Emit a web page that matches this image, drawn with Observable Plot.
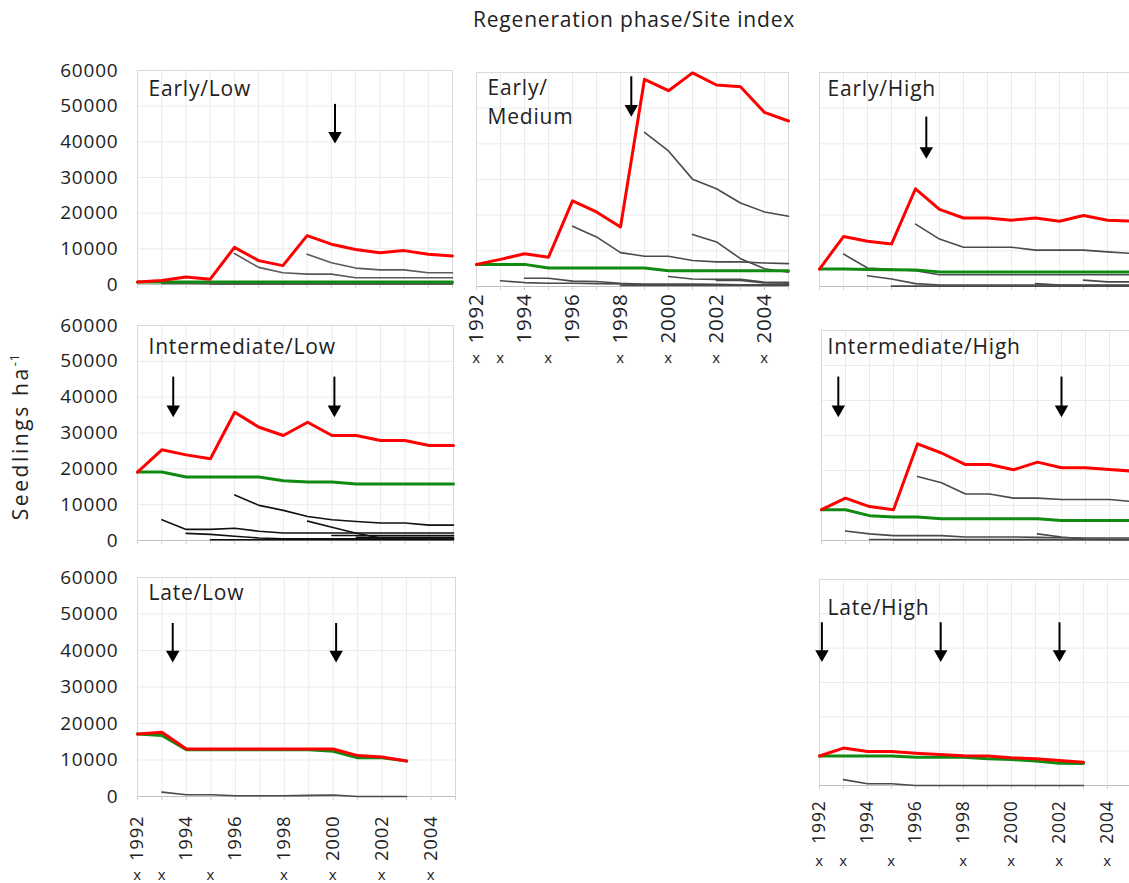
<!DOCTYPE html>
<html>
<head>
<meta charset="utf-8">
<script src="https://cdn.jsdelivr.net/npm/d3@7"></script>
<script src="https://cdn.jsdelivr.net/npm/@observablehq/plot@0.6"></script>
<style>
  html, body { margin: 0; padding: 0; background: #fff; overflow: hidden; }
  #root { position: relative; width: 1129px; height: 883px; overflow: hidden; font-family: "Open Sans", sans-serif; color: #222; }
  .panel { position: absolute; }
  #title { position: absolute; left: 473px; top: 9px; font-size: 21px; line-height: 21px; white-space: nowrap; letter-spacing: 0.8px; }
  #ylabel { position: absolute; left: 20px; top: 437px; transform: translate(-50%, -50%) rotate(-90deg); font-size: 21px; line-height: 21px; white-space: nowrap; letter-spacing: 2.6px; }
  #ylabel sup { font-size: 13px; vertical-align: 9px; line-height: 0; letter-spacing: 0.5px; }
</style>
</head>
<body>
<div id="root">
  <div id="title">Regeneration phase/Site index</div>
  <div id="ylabel">Seedlings ha<sup>-1</sup></div>
</div>
<script>
// ---------- shared axes ----------
const years = [1992, 1993, 1994, 1995, 1996, 1997, 1998, 1999, 2000, 2001, 2002, 2003, 2004, 2005];
const yTicks = [0, 10000, 20000, 30000, 40000, 50000, 60000];
const xLabelYears = [1992, 1994, 1996, 1998, 2000, 2002, 2004];
const markedYears = [1992, 1993, 1995, 1998, 2000, 2002, 2004];
const panelLabels = ["Early/Low", "Early/\nMedium", "Early/High", "Intermediate/Low", "Intermediate/High", "Late/Low", "Late/High"];

// ---------- Early/Low ----------
const earlyLowTotal = [700, 1100, 2100, 1500, 10400, 6700, 5300, 13700, 11300, 9800, 8900, 9500, 8500, 8000];
const earlyLowGreen = [700, 700, 700, 700, 700, 700, 700, 700, 700, 700, 700, 700, 700, 700];
const earlyLowCohorts = [
  {start: 1993, values: [300, 300, 200, 200, 200, 200, 200, 200, 200, 200, 200, 200, 200]},
  {start: 1995, values: [100, 100, 100, 100, 100, 100, 100, 100, 100, 100, 100]},
  {start: 1996, values: [8700, 4800, 3300, 2900, 2900, 1900, 1900, 1900, 1900, 1900]},
  {start: 1999, values: [8500, 6100, 4600, 4100, 4100, 3300, 3300]}
];
const earlyLowArrows = [{x: 2000.15, top: 50500, tip: 39500}];

// ---------- Early/Medium ----------
const earlyMedTotal = [6200, 7600, 9200, 8200, 24000, 20900, 16700, 58100, 54900, 59900, 56500, 56000, 48800, 46400];
const earlyMedGreen = [6200, 6200, 6200, 5200, 5200, 5200, 5200, 5200, 4400, 4400, 4400, 4400, 4400, 4400];
const earlyMedCohorts = [
  {start: 1993, values: [1600, 1100, 900, 900, 800, 700, 600, 600, 600, 600, 500, 500, 500]},
  {start: 1994, values: [2300, 2300, 1500, 1400, 900, 600, 600, 600, 500, 500, 500, 500]},
  {start: 1998, values: [300, 300, 300, 300, 300, 300, 300, 300]},
  {start: 2000, values: [2800, 2100, 2000, 2000, 1200, 1200]},
  {start: 2002, values: [1700, 1700, 1000, 900]},
  {start: 1996, values: [16900, 13900, 9500, 8500, 8500, 7300, 6900, 6900, 6600, 6400]},
  {start: 1999, values: [43200, 38000, 30100, 27400, 23400, 20900, 19700]},
  {start: 2001, values: [14600, 12500, 7800, 5000, 4000]}
];
const earlyMedArrows = [{x: 1998.45, top: 58800, tip: 47600}];

// ---------- Early/High ----------
const earlyHighTotal = [4900, 14000, 12700, 11900, 27400, 21600, 19200, 19200, 18600, 19200, 18300, 19900, 18600, 18300];
const earlyHighGreen = [4900, 4900, 4800, 4700, 4600, 4100, 4100, 4100, 4100, 4100, 4100, 4100, 4100, 4100];
const earlyHighCohorts = [
  {start: 1995, values: [100, 100, 100, 100, 100, 100, 100, 100, 100, 100, 100]},
  {start: 1994, values: [3000, 2100, 800, 400, 400, 400, 400, 400, 400, 400, 400, 400]},
  {start: 2001, values: [800, 400, 300, 300, 300]},
  {start: 2003, values: [1800, 1300, 1300]},
  {start: 1993, values: [9100, 5200, 4800, 4400, 3300, 3300, 3300, 3300, 3300, 3300, 3300, 3300, 3300]},
  {start: 1996, values: [17500, 13300, 11000, 11000, 11000, 10200, 10200, 10200, 9700, 9300]}
];
const earlyHighArrows = [{x: 1996.45, top: 47500, tip: 35800}];

// ---------- Intermediate/Low ----------
const intLowTotal = [19100, 25300, 23900, 22800, 35800, 31600, 29300, 33000, 29300, 29300, 27900, 27900, 26500, 26500];
const intLowGreen = [19100, 19100, 17700, 17700, 17700, 17700, 16700, 16300, 16300, 15800, 15800, 15800, 15800, 15800];
const intLowCohorts = [
  {start: 1995, values: [200, 200, 200, 200, 200, 200, 200, 200, 200, 200, 200]},
  {start: 2000, values: [1400, 1400, 1400, 1400, 1400, 1400]},
  {start: 2001, values: [900, 900, 900, 900, 900]},
  {start: 1994, values: [2000, 1700, 1200, 700, 500, 500, 500, 500, 500, 500, 500, 500]},
  {start: 1999, values: [5400, 3700, 2000, 700, 500, 500, 500]},
  {start: 1993, values: [5800, 3100, 3100, 3400, 2600, 2100, 2100, 2100, 2100, 2100, 2100, 2100, 2100]},
  {start: 1996, values: [12700, 9800, 8400, 6700, 5800, 5300, 4900, 4900, 4300, 4300]}
];
const intLowArrows = [{x: 1993.47, top: 45600, tip: 34400}, {x: 2000.1, top: 45600, tip: 34400}];

// ---------- Intermediate/High ----------
const intHighTotal = [8800, 12100, 9700, 8800, 27600, 25000, 21700, 21700, 20200, 22400, 20800, 20800, 20300, 19800];
const intHighGreen = [8800, 8800, 7100, 6700, 6700, 6200, 6200, 6200, 6200, 6200, 5700, 5700, 5700, 5700];
const intHighCohorts = [
  {start: 1994, values: [300, 300, 300, 300, 300, 300, 300, 300, 300, 300, 300, 300]},
  {start: 1995, values: [200, 200, 200, 200, 200, 200, 200, 200, 200, 200, 200]},
  {start: 2001, values: [1900, 1000, 400, 300, 300]},
  {start: 1993, values: [2700, 1900, 1400, 1400, 1400, 1000, 1000, 1000, 900, 800, 700, 700, 700]},
  {start: 1996, values: [18300, 16500, 13300, 13300, 12100, 12100, 11700, 11700, 11700, 11100]}
];
const intHighArrows = [{x: 1992.7, top: 46700, tip: 35200}, {x: 2002.0, top: 46700, tip: 35200}];

// ---------- Late/Low ----------
const lateLowTotal = [17100, 17600, 13000, 13000, 13000, 13000, 13000, 13000, 13000, 11200, 10800, 9700];
const lateLowGreen = [17100, 16700, 12800, 12800, 12800, 12800, 12800, 12800, 12400, 10600, 10600, 9700];
const lateLowCohorts = [
  {start: 1993, values: [1200, 500, 500, 200, 200, 200, 300, 400, 0, 0, 0]}
];
const lateLowArrows = [{x: 1993.44, top: 47400, tip: 36700}, {x: 2000.12, top: 47400, tip: 36700}];

// ---------- Late/High ----------
const lateHighTotal = [8600, 10900, 9900, 9900, 9400, 9000, 8700, 8600, 8100, 7800, 7300, 6800];
const lateHighGreen = [8600, 8600, 8600, 8600, 8200, 8200, 8200, 7800, 7600, 7100, 6500, 6400];
const lateHighCohorts = [
  {start: 1993, values: [1700, 500, 500, 0, 0, 0, 0, 0, 0, 0, 0]}
];
const lateHighArrows = [{x: 1992.1, top: 47400, tip: 36000}, {x: 1997.05, top: 47400, tip: 36000}, {x: 2002.0, top: 47400, tip: 36000}];

// ---------- panel layout ----------
const panels = [
  {label: panelLabels[0], frame: [137, 70, 452, 284], total: earlyLowTotal, green: earlyLowGreen, cohorts: earlyLowCohorts, arrows: earlyLowArrows, yAxis: true, labelPos: [11, 5], cohortColor: "#5a5a5a"},
  {label: panelLabels[1], frame: [476, 72, 788, 286], total: earlyMedTotal, green: earlyMedGreen, cohorts: earlyMedCohorts, arrows: earlyMedArrows, yAxis: false, xAxis: {gap: 7, marks: 72, size: 20.5}, labelPos: [11, 2], cohortColor: "#4a4a4a"},
  {label: panelLabels[2], frame: [819, 72, 1131, 286], total: earlyHighTotal, green: earlyHighGreen, cohorts: earlyHighCohorts, arrows: earlyHighArrows, yAxis: false, labelPos: [8, 3], cohortColor: "#4a4a4a"},
  {label: panelLabels[3], frame: [137, 325, 453, 540], total: intLowTotal, green: intLowGreen, cohorts: intLowCohorts, arrows: intLowArrows, yAxis: true, labelPos: [11, 8], cohortColor: "#111"},
  {label: panelLabels[4], frame: [821, 330, 1133, 540], total: intHighTotal, green: intHighGreen, cohorts: intHighCohorts, arrows: intHighArrows, yAxis: false, labelPos: [6, 3], cohortColor: "#4a4a4a"},
  {label: panelLabels[5], frame: [137, 577, 455, 796], total: lateLowTotal, green: lateLowGreen, cohorts: lateLowCohorts, arrows: lateLowArrows, yAxis: true, xAxis: {gap: 19, marks: 79, size: 18.5}, labelPos: [11, 2], cohortColor: "#4a4a4a"},
  {label: panelLabels[6], frame: [819, 579, 1131, 785], total: lateHighTotal, green: lateHighGreen, cohorts: lateHighCohorts, arrows: lateHighArrows, yAxis: false, xAxis: {gap: 15, marks: 76, size: 17.5}, labelPos: [8, 15], cohortColor: "#4a4a4a"}
];

const series = (vals, start) => vals.map((v, i) => ({year: start + i, value: v}));

function makePanel(p) {
  const [fx0, fy0, fx1, fy1] = p.frame;
  const mL = p.yAxis ? 140 : 4, mR = 4, mT = 4, mB = p.xAxis ? 110 : 12;
  const width = fx1 - fx0 + mL + mR;
  const height = fy1 - fy0 + mT + mB;
  const cohortRows = p.cohorts.flatMap((c, k) => series(c.values, c.start).map(d => ({...d, id: k})));
  const marks = [
    Plot.ruleY(yTicks, {y: d => d, stroke: "#ebebeb", strokeWidth: 1}),
    Plot.ruleX(years, {x: d => d, stroke: "#ebebeb", strokeWidth: 1}),
    Plot.frame({stroke: "#d9d9d9"}),
    Plot.ruleY([0], {y: d => d, stroke: "#bfbfbf"}),
    Plot.axisX({ticks: years, tickSize: 4, tickFormat: () => "", stroke: "#d0d0d0", label: null}),
    Plot.line(cohortRows, {x: "year", y: "value", z: "id", stroke: p.cohortColor, strokeWidth: 1.6}),
    Plot.line(series(p.green, 1992), {x: "year", y: "value", stroke: "#108a10", strokeWidth: 3}),
    Plot.line(series(p.total, 1992), {x: "year", y: "value", stroke: "#ff0000", strokeWidth: 3}),
    Plot.ruleX(p.arrows, {x: "x", y1: "top", y2: "tip", stroke: "#000", strokeWidth: 2, insetBottom: 6}),
    Plot.dot(p.arrows, {x: "x", y: "tip", symbol: "triangle", rotate: 180, r: 5, fill: "#000", stroke: null, dy: -7.8}),
    Plot.text([p.label], {text: d => d, frameAnchor: "top-left", dx: p.labelPos[0], dy: p.labelPos[1], lineAnchor: "top", textAnchor: "start", fontSize: 21, lineHeight: 1.38, fill: "#222"})
  ];
  if (p.yAxis) {
    marks.push(Plot.axisY({ticks: yTicks, tickSize: 0, tickPadding: 19, tickFormat: d => String(d), fontSize: 19, label: null, fill: "#222"}));
  }
  if (p.xAxis) {
    marks.push(Plot.axisX({ticks: xLabelYears, tickSize: 0, tickPadding: p.xAxis.gap, tickRotate: -90, tickFormat: d => String(d), fontSize: p.xAxis.size, label: null, fill: "#222"}));
    marks.push(Plot.text(markedYears, {x: d => d, text: () => "x", frameAnchor: "bottom", dy: p.xAxis.marks, lineAnchor: "middle", fontSize: 15, fill: "#222"}));
  }
  const svg = Plot.plot({
    width, height,
    marginLeft: mL, marginRight: mR, marginTop: mT, marginBottom: mB,
    x: {domain: [1992, 2005], axis: null},
    y: {domain: [0, 60000], axis: null},
    style: {fontFamily: "'Open Sans', sans-serif", fontSize: "19px", color: "#222", background: "transparent", overflow: "visible", letterSpacing: "0.8px"},
    marks
  });
  svg.classList.add("panel");
  svg.style.position = "absolute";
  svg.style.left = (fx0 - mL) + "px";
  svg.style.top = (fy0 - mT) + "px";
  document.getElementById("root").appendChild(svg);
}

panels.forEach(makePanel);
</script>
</body>
</html>
